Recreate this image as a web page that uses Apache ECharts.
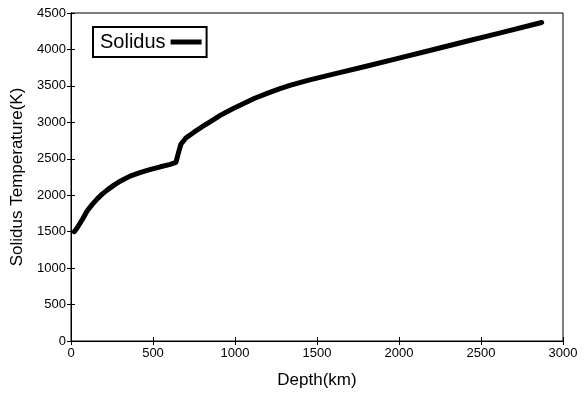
<!DOCTYPE html>
<html>
<head>
<meta charset="utf-8">
<script src="https://cdn.jsdelivr.net/npm/echarts@6/dist/echarts.min.js"></script>
<style>
  html, body { margin: 0; padding: 0; background: #fff; }
  #main { width: 585px; height: 394px; }
</style>
</head>
<body>
<div id="main"></div>
<script>
// depth (km) and solidus temperature (K)
const depthKm = [20, 40, 70, 100, 130, 160, 190, 220, 260, 300, 360, 420, 480, 545, 600, 640, 655, 670, 700, 750, 800, 860, 910, 980, 1050, 1120, 1200, 1270, 1340, 1450, 1600, 1800, 2000, 2200, 2400, 2600, 2870];
const solidusK = [1500, 1560, 1670, 1790, 1875, 1950, 2015, 2070, 2135, 2192, 2262, 2310, 2350, 2390, 2420, 2450, 2580, 2700, 2785, 2865, 2940, 3025, 3095, 3180, 3255, 3330, 3400, 3458, 3510, 3580, 3662, 3770, 3880, 3993, 4106, 4218, 4370];

const seriesName = "Solidus";
const xTitle = "Depth(km)";
const yTitle = "Solidus Temperature(K)";

const chartDom = document.getElementById("main");
const myChart = echarts.init(chartDom);

const font = "Liberation Sans, Arial, Helvetica, sans-serif";
const black = "#000";

const tickStyle = { show: true, inside: true, length: 4, lineStyle: { color: black, width: 1 } };
const plain = (v) => String(v);

const option = {
  animation: false,
  backgroundColor: "#fff",
  textStyle: { fontFamily: font, color: black },
  grid: {
    left: 71,
    right: 22,
    top: 13,
    bottom: 51,
    show: true,
    borderColor: black,
    borderWidth: 1,
  },
  legend: {
    data: [seriesName],
    left: 93,
    top: 27,
    align: "right",
    icon: "rect",
    itemWidth: 31,
    itemHeight: 5,
    padding: [5, 5, 5, 7],
    borderColor: black,
    borderWidth: 2,
    borderRadius: 0,
    textStyle: { fontSize: 20, color: black, fontFamily: font, lineHeight: 20 },
  },
  xAxis: [
    {
      type: "value",
      min: 0,
      max: 3000,
      interval: 500,
      name: xTitle,
      nameLocation: "middle",
      nameGap: 31,
      nameTextStyle: { fontSize: 17, color: black, fontFamily: font },
      axisLine: { show: true, lineStyle: { color: black } },
      axisTick: tickStyle,
      axisLabel: { fontSize: 13, color: black, margin: 6, formatter: plain },
      splitLine: { show: false },
    },
    {
      type: "value",
      position: "top",
      min: 0,
      max: 3000,
      interval: 500,
      axisLine: { show: true, lineStyle: { color: black } },
      axisTick: tickStyle,
      axisLabel: { show: false },
      splitLine: { show: false },
    },
  ],
  yAxis: [
    {
      type: "value",
      min: 0,
      max: 4500,
      interval: 500,
      name: yTitle,
      nameLocation: "middle",
      nameGap: 38,
      nameTextStyle: { fontSize: 17, color: black, fontFamily: font },
      axisLine: { show: true, lineStyle: { color: black } },
      axisTick: tickStyle,
      axisLabel: { fontSize: 13, color: black, margin: 5, formatter: plain },
      splitLine: { show: false },
    },
    {
      type: "value",
      position: "right",
      min: 0,
      max: 4500,
      interval: 500,
      axisLine: { show: true, lineStyle: { color: black } },
      axisTick: tickStyle,
      axisLabel: { show: false },
      splitLine: { show: false },
    },
  ],
  series: [
    {
      name: seriesName,
      type: "line",
      xAxisIndex: 0,
      yAxisIndex: 0,
      showSymbol: false,
      smooth: false,
      color: black,
      lineStyle: { color: black, width: 5, cap: "round", join: "round" },
      data: depthKm.map((d, i) => [d, solidusK[i]]),
    },
  ],
};

myChart.setOption(option);
</script>
</body>
</html>
